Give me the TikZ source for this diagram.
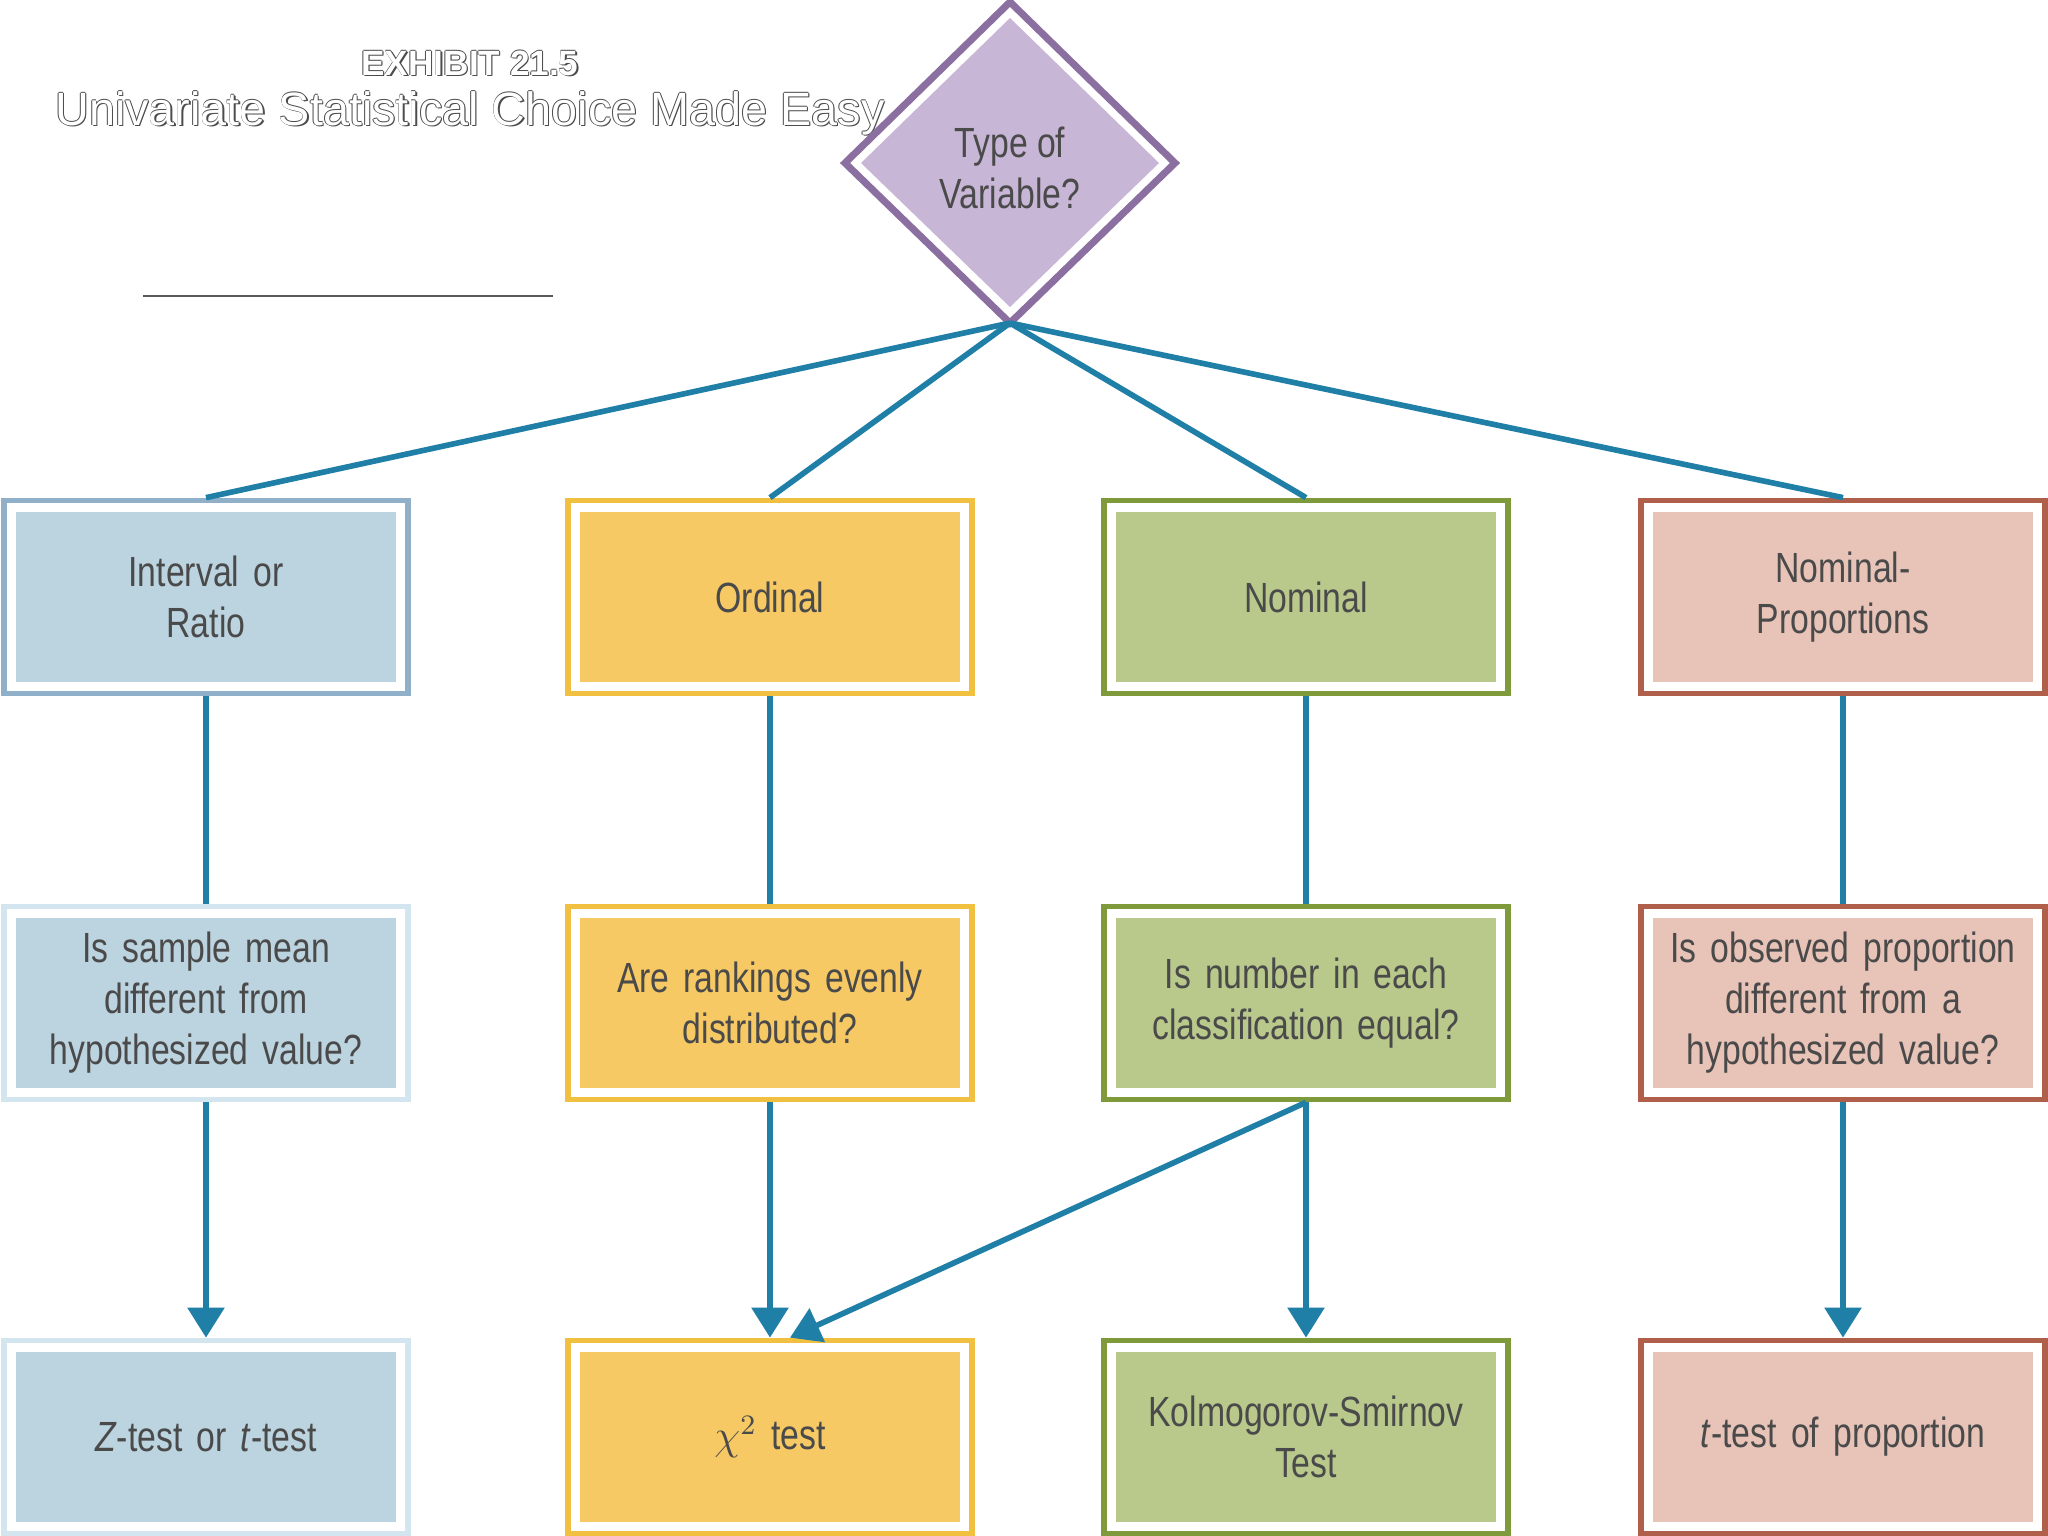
\documentclass[tikz,border=0pt]{standalone}
\usepackage{fontspec}
\setmainfont{Liberation Sans}
\newfontfamily\cond{Liberation Sans}[FakeStretch=0.8]
\usetikzlibrary{arrows.meta}
\definecolor{ln}{HTML}{1F7FA6}
\definecolor{bF}{HTML}{BCD3E0}\definecolor{bB}{HTML}{8FB0C8}\definecolor{bL}{HTML}{D3E6F0}
\definecolor{yF}{HTML}{F6C965}\definecolor{yB}{HTML}{F2C040}
\definecolor{gF}{HTML}{B9C98C}\definecolor{gB}{HTML}{7F9A3A}
\definecolor{pF}{HTML}{E8C4B8}\definecolor{pB}{HTML}{B0604A}
\definecolor{dF}{HTML}{C8B6D6}\definecolor{dB}{HTML}{8A6FA0}
\definecolor{tx}{HTML}{4A4A4A}
\begin{document}
\begin{tikzpicture}[x=0.01cm,y=-0.01cm,
  bx/.style 2 args={draw=#2,line width=1.6pt,fill=white,minimum width=4.04cm,minimum height=1.93cm,
    path picture={\fill[#1] ([xshift=0.12cm,yshift=-0.12cm]path picture bounding box.north west) rectangle ([xshift=-0.12cm,yshift=0.12cm]path picture bounding box.south east);},
    text=tx,font=\cond\fontsize{12}{14.5}\selectfont,align=center,text width=3.7cm,inner sep=0pt},
  ln/.style={draw=ln,line width=1.6pt},
  ar/.style={ln,-{Triangle[length=0.3cm,width=0.36cm]}}]
\useasboundingbox (0,0) rectangle (2048,1536);
\fill[white] (0,0) rectangle (2048,1536);
% title
\foreach \dx/\dy in {1.2/1.2,-0.8/0,0.8/0,0/-0.8,0/0.8}{
\node[text=gray!60!black,font=\bfseries\fontsize{10}{12}\selectfont] at ([shift={(\dx,\dy)}]470,63) {EXHIBIT 21.5};
\node[text=gray!60!black,font=\fontsize{13.3}{16}\selectfont] at ([shift={(\dx,\dy)}]470,113) {Univariate Statistical Choice Made Easy};}
\node[text=white,font=\bfseries\fontsize{10}{12}\selectfont] (t1) at (470,63) {EXHIBIT 21.5};
\node[text=white,font=\fontsize{13.3}{16}\selectfont] (t2) at (470,113) {Univariate Statistical Choice Made Easy};
\draw[gray!70!black,line width=0.8pt] (143,296) -- (553,296);
% diamond
\coordinate (dbm) at (1010,323);
\draw[dB,line width=2pt,fill=white] (1010,2)--(1175,163)--(1010,323)--(845,163)--cycle;
\fill[dF] (1010,18)--(1159,163)--(1010,307)--(861,163)--cycle;
\node[text=tx,font=\cond\fontsize{12}{14.5}\selectfont,align=center] (d) at (1010,168) {Type of\\Variable?};
% boxes
\node[bx={bF}{bB}] (a1) at (206,597) {Interval or\\Ratio};
\node[bx={yF}{yB}] (b1) at (770,597) {Ordinal};
\node[bx={gF}{gB}] (c1) at (1306,597) {Nominal};
\node[bx={pF}{pB}] (e1) at (1843,597) {Nominal-\\Proportions};
\node[bx={bF}{bL}] (a2) at (206,1003) {Is sample mean\\different from\\hypothesized value?};
\node[bx={yF}{yB}] (b2) at (770,1003) {Are rankings evenly\\distributed?};
\node[bx={gF}{gB}] (c2) at (1306,1003) {Is number in each\\classification equal?};
\node[bx={pF}{pB}] (e2) at (1843,1003) {Is observed proportion\\different from a\\hypothesized value?};
\node[bx={bF}{bL}] (a3) at (206,1437) {\textit{Z}-test or \textit{t}-test};
\node[bx={yF}{yB}] (b3) at (770,1437) {$\chi^2$ test};
\node[bx={gF}{gB}] (c3) at (1306,1437) {Kolmogorov-Smirnov\\Test};
\node[bx={pF}{pB}] (e3) at (1843,1437) {\textit{t}-test of proportion};
% connectors
\foreach \n in {a1,b1,c1,e1}{\draw[ln] (dbm) -- (\n.north);}
\foreach \n/\m in {a1/a2,b1/b2,c1/c2,e1/e2}{\draw[ln] (\n.south) -- (\m.north);}
\foreach \n/\m in {a2/a3,b2/b3,c2/c3,e2/e3}{\draw[ar] (\n.south) -- (\m.north);}
\draw[ar] (c2.south) -- ([xshift=0.2cm]b3.north);
\end{tikzpicture}
\end{document}
